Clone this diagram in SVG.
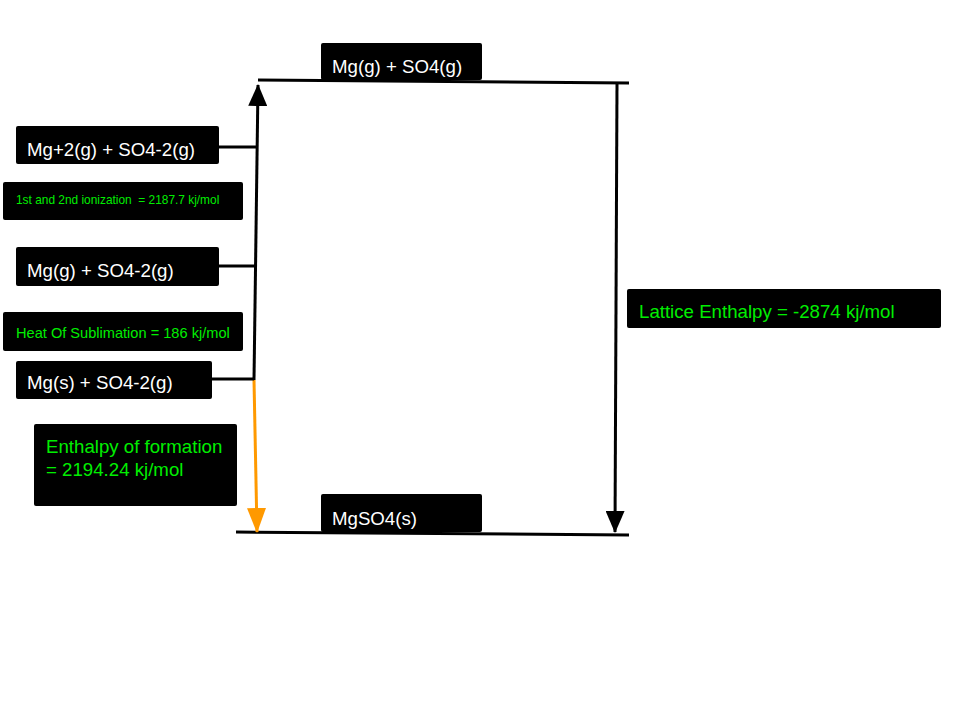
<svg xmlns="http://www.w3.org/2000/svg" width="960" height="720" viewBox="0 0 960 720">
<style>
.box{fill:#000}
.lbl{font-family:"Liberation Sans",Arial,sans-serif;font-size:18.67px;fill:#fff}
.g{fill:#00ee00}
.ln{stroke:#000;stroke-width:3;fill:none}
</style>
<defs>
<marker id="ab" markerUnits="userSpaceOnUse" markerWidth="22" markerHeight="19" refX="21" refY="9.5" orient="auto" viewBox="0 0 22 19">
<path d="M0,0 L22,9.5 L0,19 Z" fill="#000"/>
</marker>
<marker id="ao" markerUnits="userSpaceOnUse" markerWidth="25" markerHeight="19" refX="24" refY="9.5" orient="auto" viewBox="0 0 25 19">
<path d="M0,0 L25,9.5 L0,19 Z" fill="#ff9900"/>
</marker>
</defs>
<rect width="960" height="720" fill="#fff"/>
<g id="connectors">
<line class="ln" x1="258" y1="80" x2="629" y2="83"/>
<line class="ln" x1="236" y1="532" x2="629" y2="535"/>
<line class="ln" x1="254" y1="380" x2="258" y2="85" marker-end="url(#ab)"/>
<line class="ln" x1="617" y1="84" x2="615" y2="532" marker-end="url(#ab)"/>
<line x1="254" y1="380" x2="257" y2="532" stroke="#ff9900" stroke-width="3" marker-end="url(#ao)"/>
<line class="ln" x1="219" y1="147" x2="256" y2="147"/>
<line class="ln" x1="219" y1="266" x2="255" y2="266"/>
<line class="ln" x1="212" y1="379" x2="254" y2="379"/>
</g>
<g id="top">
<rect class="box" x="321" y="43" width="161" height="37" rx="2"/>
<text class="lbl" x="332" y="73">Mg(g) + SO4(g)</text>
</g>
<g id="mg2">
<rect class="box" x="16" y="126" width="203" height="38" rx="2"/>
<text class="lbl" x="27" y="156">Mg+2(g) + SO4-2(g)</text>
</g>
<g id="ion">
<rect class="box" x="3" y="182" width="240" height="38" rx="2"/>
<text class="lbl g" x="16" y="204" style="font-size:11.9px" xml:space="preserve">1st and 2nd ionization  = 2187.7 kj/mol</text>
</g>
<g id="mgg">
<rect class="box" x="16" y="247" width="203" height="39" rx="2"/>
<text class="lbl" x="27" y="277">Mg(g) + SO4-2(g)</text>
</g>
<g id="sub">
<rect class="box" x="3" y="312" width="240" height="39" rx="2"/>
<text class="lbl g" x="16" y="338" style="font-size:14.6px">Heat Of Sublimation = 186 kj/mol</text>
</g>
<g id="mgs">
<rect class="box" x="16" y="361" width="196" height="38" rx="2"/>
<text class="lbl" x="27" y="389">Mg(s) + SO4-2(g)</text>
</g>
<g id="formation">
<rect class="box" x="34" y="424" width="203" height="82" rx="2"/>
<text class="lbl g" x="46" y="453">Enthalpy of formation</text>
<text class="lbl g" x="46" y="476">= 2194.24 kj/mol</text>
</g>
<g id="mgso4">
<rect class="box" x="321" y="494" width="161" height="38" rx="2"/>
<text class="lbl" x="332" y="525">MgSO4(s)</text>
</g>
<g id="lattice">
<rect class="box" x="627" y="289" width="314" height="39" rx="2"/>
<text class="lbl g" x="639" y="318">Lattice Enthalpy = -2874 kj/mol</text>
</g>
</svg>
